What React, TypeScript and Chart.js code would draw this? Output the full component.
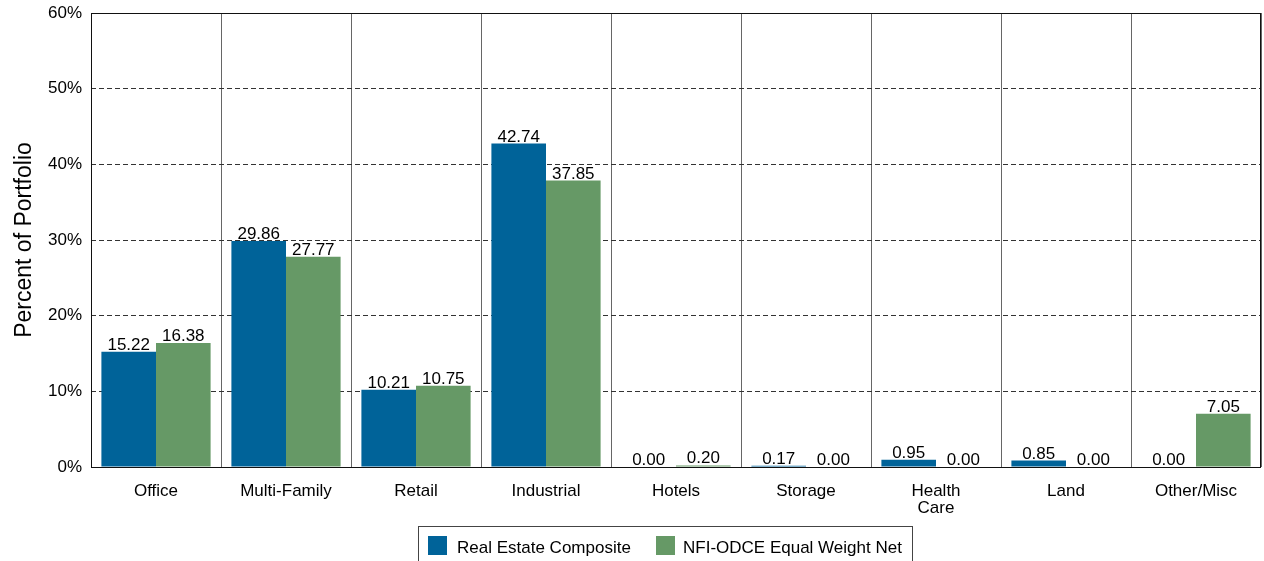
import { useEffect, useRef } from 'react';
import { Chart, registerables } from 'chart.js';

Chart.register(...registerables);

const categories: (string | string[])[] = ['Office', 'Multi-Family', 'Retail', 'Industrial', 'Hotels', 'Storage', ['Health', 'Care'], 'Land', 'Other/Misc'];
const compositeValues = [15.22, 29.86, 10.21, 42.74, 0.0, 0.17, 0.95, 0.85, 0.0];
const odceValues = [16.38, 27.77, 10.75, 37.85, 0.2, 0.0, 0.0, 0.0, 7.05];
const seriesNames = ['Real Estate Composite', 'NFI-ODCE Equal Weight Net'];
const seriesColors = ['#006399', '#669966'];
const yMin = 0;
const yMax = 60;
const yStep = 10;

const FONT = '"Liberation Sans", Arial, Helvetica, sans-serif';

const customPlugin = {
  id: 'custom',
  afterDatasetsDraw(chart: any) {
    const ctx = chart.ctx;
    ctx.save();
    ctx.font = `17px ${FONT}`;
    ctx.fillStyle = '#000';
    ctx.textAlign = 'center';
    ctx.textBaseline = 'alphabetic';
    chart.data.datasets.forEach((ds: any, di: number) => {
      const meta = chart.getDatasetMeta(di);
      meta.data.forEach((el: any, i: number) => {
        const v = ds.data[i] as number;
        ctx.fillText(v.toFixed(2), el.x, el.y - 2);
      });
    });
    ctx.restore();
  },
  afterDraw(chart: any) {
    const ctx = chart.ctx;
    const a = chart.chartArea;
    ctx.save();
    // plot border
    ctx.strokeStyle = '#111';
    ctx.lineWidth = 1;
    ctx.setLineDash([]);
    ctx.strokeRect(Math.round(a.left) + 0.5, Math.round(a.top) + 0.5, Math.round(a.right - a.left) - 1, Math.round(a.bottom - a.top));
    // legend
    const boxLeft = 418;
    const boxTop = 526;
    const boxRight = 912;
    ctx.strokeStyle = '#444';
    ctx.strokeRect(boxLeft + 0.5, boxTop + 0.5, boxRight - boxLeft, 60);
    const items = [
      { sq: 428, tx: 457 },
      { sq: 656, tx: 683 },
    ];
    ctx.font = `17px ${FONT}`;
    ctx.textAlign = 'left';
    ctx.textBaseline = 'alphabetic';
    items.forEach((it, i) => {
      ctx.fillStyle = seriesColors[i];
      ctx.fillRect(it.sq, 536, 19, 19);
      ctx.fillStyle = '#000';
      ctx.fillText(seriesNames[i], it.tx, 553);
    });
    ctx.restore();
  },
};

export default function App() {
  const ref = useRef<HTMLCanvasElement | null>(null);
  useEffect(() => {
    if (!ref.current) return;
    const chart = new Chart(ref.current, {
      type: 'bar',
      data: {
        labels: categories as any,
        datasets: [
          {
            label: seriesNames[0],
            data: compositeValues,
            backgroundColor: seriesColors[0],
            borderWidth: 0,
            categoryPercentage: 0.84,
            barPercentage: 1.0,
          },
          {
            label: seriesNames[1],
            data: odceValues,
            backgroundColor: seriesColors[1],
            borderWidth: 0,
            categoryPercentage: 0.84,
            barPercentage: 1.0,
          },
        ],
      },
      options: {
        responsive: false,
        animation: false,
        layout: { padding: { top: 13, right: 3, left: 0, bottom: 0 } },
        plugins: {
          legend: { display: false },
          tooltip: { enabled: false },
          title: { display: false },
        },
        scales: {
          x: {
            offset: true,
            grid: {
              display: true,
              offset: true,
              color: '#666',
              lineWidth: 1,
              drawTicks: false,
            },
            border: { display: false },
            ticks: {
              color: '#000',
              font: { family: FONT, size: 17, lineHeight: 1.0 },
              padding: 16,
              maxRotation: 0,
              autoSkip: false,
            },
            afterFit(scale: any) {
              scale.height = 94;
              scale.paddingLeft = 0;
              scale.paddingRight = 0;
            },
          },
          y: {
            min: yMin,
            max: yMax,
            grid: {
              color: '#333',
              lineWidth: 1,
              drawTicks: false,
            },
            border: { display: false, dash: [5, 3] },
            ticks: {
              stepSize: yStep,
              color: '#000',
              padding: 9,
              font: { family: FONT, size: 17, lineHeight: 1.0 },
              callback: (v: any) => `${v}%`,
            },
            title: {
              display: true,
              text: 'Percent of Portfolio',
              color: '#000',
              font: { family: FONT, size: 23 },
              padding: { top: 11, bottom: 0 },
            },
            afterFit(scale: any) {
              scale.width = 91;
              scale.paddingTop = 0;
              scale.paddingBottom = 0;
            },
          },
        },
      },
      plugins: [customPlugin],
    });
    return () => chart.destroy();
  }, []);
  return (
    <div style={{ position: 'fixed', left: 0, top: 0, width: 1264, height: 561, background: '#fff' }}>
      <canvas ref={ref} width={1264} height={561} style={{ display: 'block' }} />
    </div>
  );
}
